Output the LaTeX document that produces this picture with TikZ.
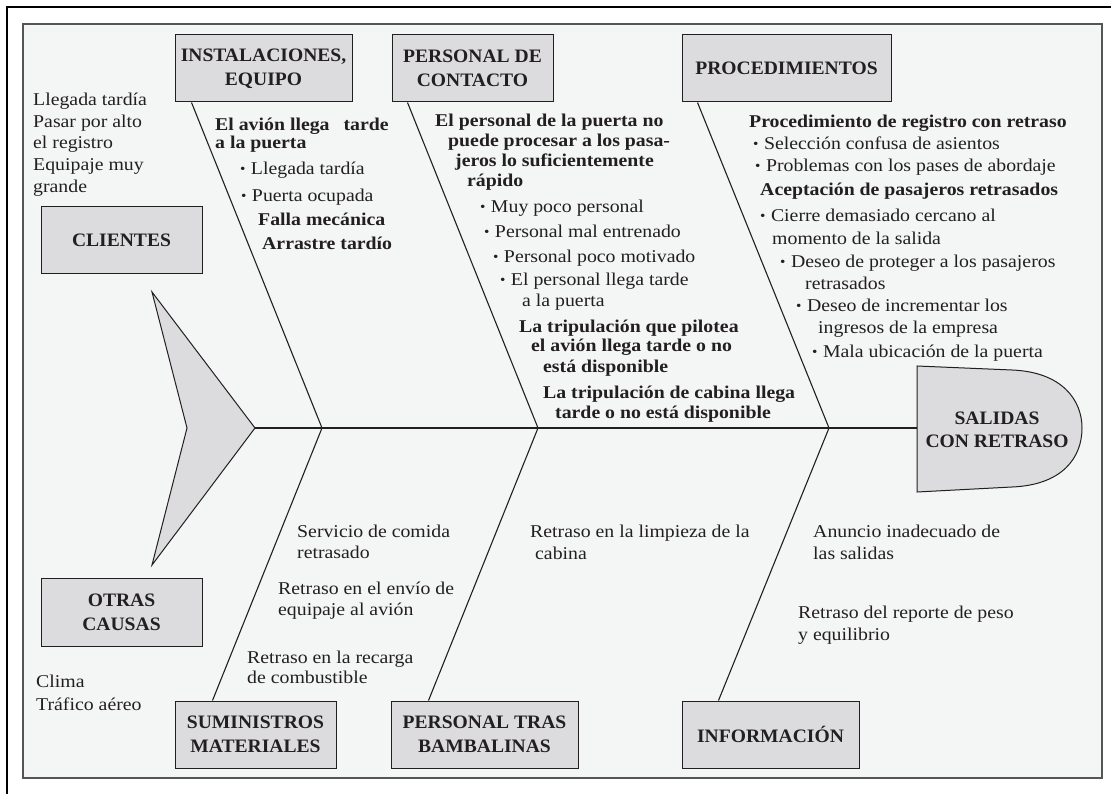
\documentclass[tikz,border=0pt]{standalone}
\usepackage{fontspec}
\setmainfont{Liberation Serif}[FakeStretch=1.1]
\newfontfamily\bfam{Liberation Serif}[FakeStretch=1.1]
\newfontfamily\lfam{Liberation Serif}[FakeStretch=1.03]
\usetikzlibrary{calc}
\newcommand\bul{\raisebox{1pt}{\fontsize{14}{14}\selectfont •}\hspace{0.3em}}
\definecolor{bgc}{RGB}{244,245,245}
\definecolor{boxc}{RGB}{220,220,222}
\definecolor{ink}{RGB}{35,31,32}
\definecolor{framec}{RGB}{85,85,85}
\tikzset{
  catbox/.style={draw=ink, fill=boxc, line width=1pt, align=center, text=ink, inner sep=0pt,
    font=\lfam\bfseries\fontsize{19}{24}\selectfont},
  reg/.style={anchor=base west, inner sep=0pt, text=ink, font=\fontsize{18}{22}\selectfont},
  bld/.style={anchor=base west, inner sep=0pt, text=ink, font=\bfam\bfseries\fontsize{18}{22}\selectfont},
  bone/.style={draw=ink, line width=1.1pt},
  fishpart/.style={draw=ink, fill=boxc, line width=1pt, line join=miter},
}
\begin{document}
\begin{tikzpicture}[x=1pt,y=-1pt]
\useasboundingbox (0,0) rectangle (1111,794);
\fill[white] (0,0) rectangle (1111,794);
\draw[black, line width=2.2pt] (7,794) -- (7,7) -- (1111,7);
\draw[framec, fill=bgc, line width=1.2pt] (23,24) rectangle (1102,778);

% category boxes
\node[catbox, minimum width=177pt, minimum height=67pt] (inst) at (263.5,68.5) {INSTALACIONES,\\EQUIPO};
\node[catbox, minimum width=161pt, minimum height=67pt] (cont) at (472.5,68.5) {PERSONAL DE\\CONTACTO};
\node[catbox, minimum width=209pt, minimum height=67pt] (proc) at (786.5,68.5) {PROCEDIMIENTOS};
\node[catbox, minimum width=161pt, minimum height=67pt] (cli) at (121.5,240.5) {CLIENTES};
\node[catbox, minimum width=161pt, minimum height=68pt] (otr) at (121.5,612) {OTRAS\\CAUSAS};
\node[catbox, minimum width=161pt, minimum height=67pt] (sum) at (255.5,734.5) {SUMINISTROS\\MATERIALES};
\node[catbox, minimum width=187pt, minimum height=67pt] (tras) at (484.5,734.5) {PERSONAL TRAS\\BAMBALINAS};
\node[catbox, minimum width=177pt, minimum height=67pt] (info) at (770.5,734.5) {INFORMACIÓN};

% tail
\coordinate (tailtip) at (255,428);
\filldraw[fishpart] (152,292) -- (tailtip) -- (152,565) -- (187,428) -- cycle;

% head
\filldraw[fishpart] (917,366) -- (1012,370) .. controls (1062,372) and (1082,400) .. (1082,428)
  .. controls (1082,458) and (1062,485) .. (1012,487) -- (917,492) -- cycle;
\coordinate (headw) at (917,428);
\node[align=center, text=ink, inner sep=0pt, font=\lfam\bfseries\fontsize{19}{23}\selectfont] (head) at (997,430) {SALIDAS\\CON RETRASO};

% spine and bones
\coordinate (j1) at (322,428);
\coordinate (j2) at (538,428);
\coordinate (j3) at (829,428);
\draw[bone] (tailtip) -- (headw);
\draw[bone] ($(inst.south west)+(17,0)$) -- (j1);
\draw[bone] ($(cont.south west)+(16,0)$) -- (j2);
\draw[bone] ($(proc.south west)+(16,0)$) -- (j3);
\draw[bone] (j1) -- ($(sum.north west)+(38,0)$);
\draw[bone] (j2) -- ($(tras.north west)+(38,0)$);
\draw[bone] (j3) -- ($(info.north west)+(37,0)$);

% clientes
\node[reg] (c1) at (33,106) {Llegada tardía};
\node[reg] (c2) at (33,128) {Pasar por alto};
\node[reg] (c3) at (33,149) {el registro};
\node[reg] (c4) at (33,171) {Equipaje muy};
\node[reg] (c5) at (33,193) {grande};

% otras causas
\node[reg] (o1) at (36,687) {Clima};
\node[reg] (o2) at (36,710) {Tráfico aéreo};

% instalaciones
\node[bld] (i1) at (215,131) {El avión llega\hspace{0.5em} tarde};
\node[bld] (i2) at (215,149) {a la puerta};
\node[reg] (i3) at (240,175) {\bul Llegada tardía};
\node[reg] (i4) at (241,202) {\bul Puerta ocupada};
\node[bld] (i5) at (258,226) {Falla mecánica};
\node[bld] (i6) at (262,250) {Arrastre tardío};

% personal de contacto
\node[bld] (p1) at (435,127) {El personal de la puerta no};
\node[bld] (p2) at (448,147) {puede procesar a los pasa-};
\node[bld] (p3) at (455,167) {jeros lo suficientemente};
\node[bld] (p4) at (467,187) {rápido};
\node[reg] (p5) at (480,213) {\bul Muy poco personal};
\node[reg] (p6) at (484,238) {\bul Personal mal entrenado};
\node[reg] (p7) at (493,263) {\bul Personal poco motivado};
\node[reg] (p8) at (500,286) {\bul El personal llega tarde};
\node[reg] (p9) at (522,307) {a la puerta};
\node[bld] (p10) at (519,332) {La tripulación que pilotea};
\node[bld] (p11) at (531,352) {el avión llega tarde o no};
\node[bld] (p12) at (543,372) {está disponible};
\node[bld] (p13) at (543,398) {La tripulación de cabina llega};
\node[bld] (p14) at (555,418) {tarde o no está disponible};

% procedimientos
\node[bld] (r1) at (749,128) {Procedimiento de registro con retraso};
\node[reg] (r2) at (753,150) {\bul Selección confusa de asientos};
\node[reg] (r3) at (755,172) {\bul Problemas con los pases de abordaje};
\node[bld] (r4) at (760,196) {Aceptación de pasajeros retrasados};
\node[reg] (r5) at (760,222) {\bul Cierre demasiado cercano al};
\node[reg] (r6) at (772,245) {momento de la salida};
\node[reg] (r7) at (780,268) {\bul Deseo de proteger a los pasajeros};
\node[reg] (r8) at (805,290) {retrasados};
\node[reg] (r9) at (796,312) {\bul Deseo de incrementar los};
\node[reg] (r10) at (818,334) {ingresos de la empresa};
\node[reg] (r11) at (812,357) {\bul Mala ubicación de la puerta};

% suministros
\node[reg] (s1) at (297,537) {Servicio de comida};
\node[reg] (s2) at (297,558) {retrasado};
\node[reg] (s3) at (278,594) {Retraso en el envío de};
\node[reg] (s4) at (278,615) {equipaje al avión};
\node[reg] (s5) at (247,663) {Retraso en la recarga};
\node[reg] (s6) at (247,683) {de combustible};

% personal tras bambalinas
\node[reg] (t1) at (530,537) {Retraso en la limpieza de la};
\node[reg] (t2) at (535,559) {cabina};

% informacion
\node[reg] (n1) at (813,537) {Anuncio inadecuado de};
\node[reg] (n2) at (813,559) {las salidas};
\node[reg] (n3) at (798,618) {Retraso del reporte de peso};
\node[reg] (n4) at (798,640) {y equilibrio};
\end{tikzpicture}
\end{document}
